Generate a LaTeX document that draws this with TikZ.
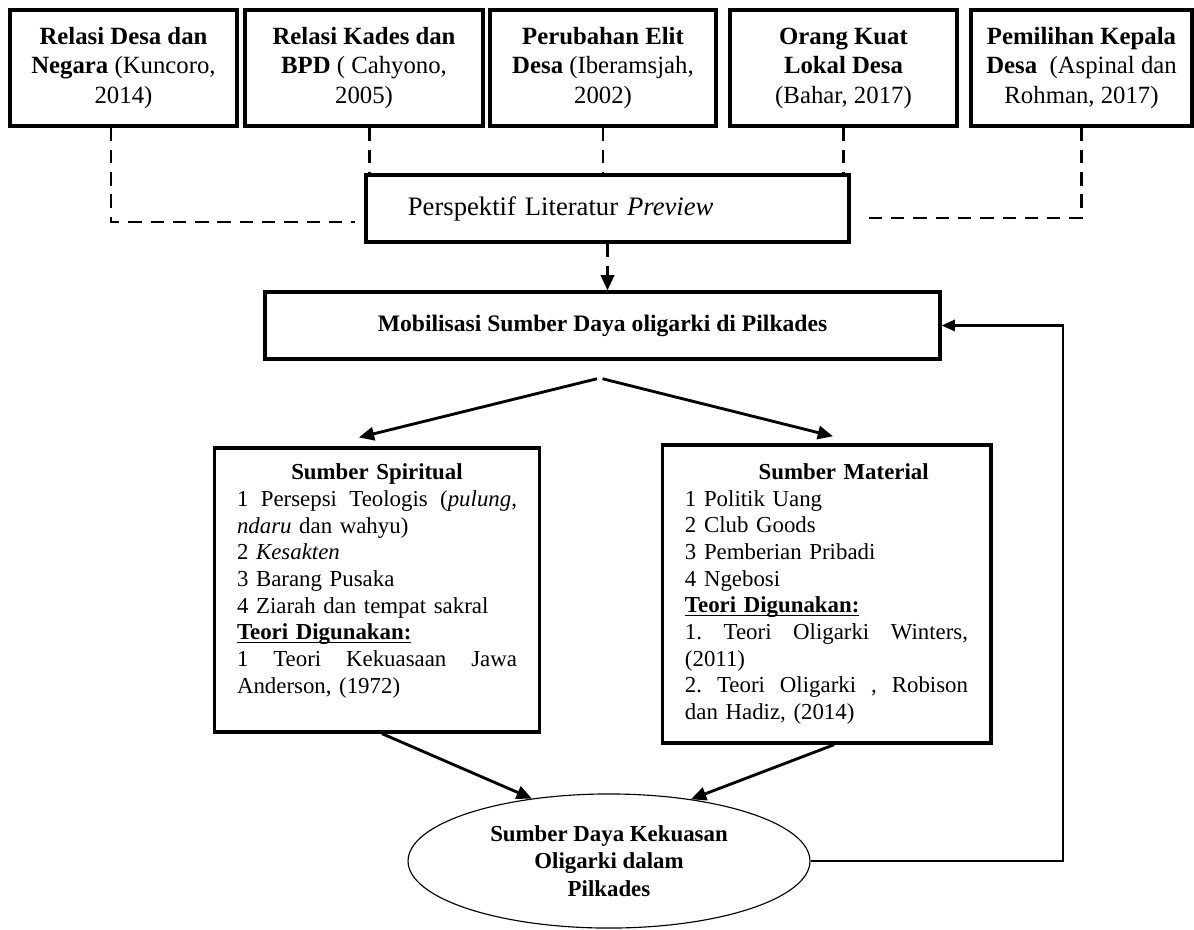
\documentclass[tikz,border=0pt]{standalone}
\usepackage{fontspec}
\setmainfont{Liberation Serif}
\usepackage{tikz}
\usetikzlibrary{arrows.meta,positioning,calc,shapes.geometric}
\tikzset{
  box/.style={draw,line width=1.7pt,align=center,inner sep=2pt,
              font=\fontsize{13}{15.5}\selectfont},
  lit/.style={box,minimum height=60.9pt},          % kotak literatur
  src/.style={draw,line width=1.7pt,align=left,inner xsep=12pt,inner ysep=2pt,
              font=\fontsize{12}{14}\selectfont},  % sumber spiritual / material
  res/.style={draw,ellipse,line width=0.6pt,inner sep=0pt,align=center,
              font=\bfseries\fontsize{12}{14.4}\selectfont},
  dsh/.style={line width=1.4pt,dash pattern=on 7pt off 4.7pt},
  ar/.style={-{Triangle[length=8pt,width=7pt]},line width=1.5pt},
  fb/.style={-{Triangle[length=7pt,width=6pt]},line width=1.1pt}
}
\newcommand{\teori}{\underline{\smash{\textbf{Teori Digunakan:}}}}

\begin{document}
\begin{tikzpicture}[x=0.525pt,y=-0.525pt]
  \useasboundingbox (0,0) rectangle (1194,929);
  % literatur
  \node[lit,minimum width=119.2pt] (desa)  at (123.5,68)  {\textbf{Relasi Desa dan}\\\textbf{Negara} (Kuncoro,\\2014)};
  \node[lit,minimum width=125pt]   (kades) at (364,68)    {\textbf{Relasi Kades dan}\\\textbf{BPD} ( Cahyono,\\2005)};
  \node[lit,minimum width=118.7pt] (elit)  at (603,68)    {\textbf{Perubahan Elit}\\\textbf{Desa} (Iberamsjah,\\2002)};
  \node[lit,minimum width=119.2pt] (kuat)  at (843.5,68)  {\textbf{Orang Kuat}\\\textbf{Lokal Desa}\\(Bahar, 2017)};
  \node[lit,minimum width=116pt]   (pilih) at (1081.5,68) {\textbf{Pemilihan Kepala}\\\textbf{Desa}\ \ (Aspinal dan\\Rohman, 2017)};

  \node[box,font=\fontsize{14}{16}\selectfont,minimum width=253.6pt,minimum height=35.2pt,
        text width=209.6pt,inner xsep=22pt,align=left] (pers) at (607.5,208.5) {Perspektif Literatur \textit{Preview}};
  \draw[dsh] ([xshift=-6.5pt]desa.south) |- ([xshift=-4.7pt,yshift=-7pt]pers.west);
  \draw[dsh] ([xshift=3pt]kades.south) -- ([xshift=3pt]kades.south |- pers.north);
  \draw[dsh] (elit.south) -- (elit.south |- pers.north);
  \draw[dsh] (kuat.south) -- (kuat.south |- pers.north);
  \draw[dsh] (pilih.south) |- ([xshift=6.3pt,yshift=-5pt]pers.east);

  \node[box,font=\bfseries\fontsize{12.4}{14}\selectfont,minimum width=354.4pt,
        minimum height=35.2pt] (mob) at (602.5,325.5) {Mobilisasi Sumber Daya oligarki di Pilkades};
  \draw[dsh,-{Triangle[length=8pt,width=7pt]}] (pers.south) -- (pers.south |- mob.north);

  % sumber
  \node[src,text width=147pt,minimum height=149.1pt] (spir) at (377,590) {%
    \makebox[\linewidth][c]{\textbf{Sumber Spiritual}}\\
    \makebox[\linewidth]{1\hfill Persepsi\hfill Teologis\hfill (\textit{pulung},}\\
    \textit{ndaru} dan wahyu)\\
    2 \textit{Kesakten}\\
    3 Barang Pusaka\\
    4 Ziarah dan tempat sakral\\
    \teori\\
    \makebox[\linewidth]{1\hfill Teori\hfill Kekuasaan\hfill Jawa}\\
    Anderson, (1972)\rule[-12pt]{0pt}{0pt}};
  \node[src,text width=148.6pt,minimum height=156.5pt] (mat) at (826.5,594) {%
    \makebox[\linewidth][c]{\hspace{18pt}\textbf{Sumber Material}}\\
    1 Politik Uang\\
    2 Club Goods\\
    3 Pemberian Pribadi\\
    4 Ngebosi\\
    \teori\\
    \makebox[\linewidth]{1.\hfill Teori\hfill Oligarki\hfill Winters,}\\
    (2011)\\
    \makebox[\linewidth]{2.\hfill Teori\hfill Oligarki\hfill ,\hfill Robison}\\
    dan Hadiz, (2014)};
  \draw[ar] ([xshift=-2.9pt,yshift=-9.5pt]mob.south) -- ([xshift=-9.5pt,yshift=4.7pt]spir.north);
  \draw[ar] ([yshift=-9.5pt]mob.south) -- ([xshift=3.4pt,yshift=3.7pt]mat.north);

  \node[res,minimum width=211pt,minimum height=70.4pt] (ell) at (609,861)
    {Sumber Daya Kekuasan\\Oligarki dalam\\Pilkades};
  \draw[ar] ([xshift=2.6pt]spir.south) -- (ell.141);
  \draw[ar] ([xshift=4pt]mat.south) -- (ell.37);
  \coordinate (back) at (1063,861);
  \draw[fb] (ell.east) -- (back) |- (mob.east);
\end{tikzpicture}
\end{document}
